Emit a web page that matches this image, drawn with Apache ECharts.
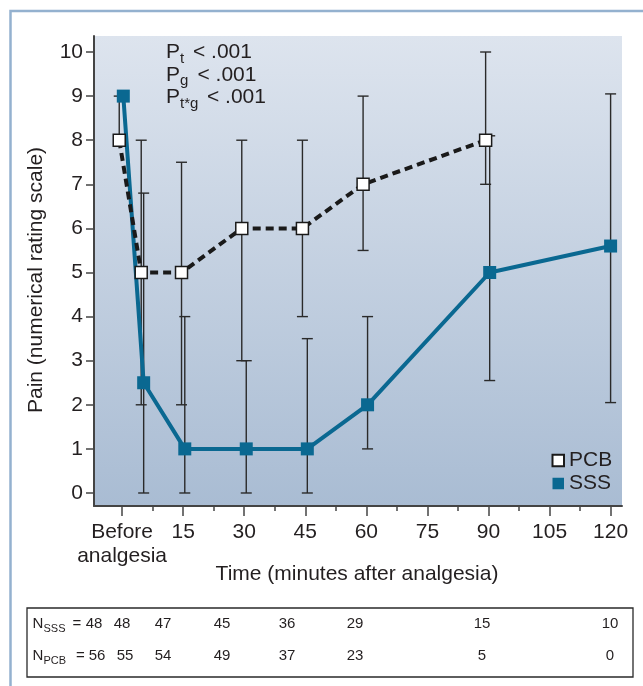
<!DOCTYPE html>
<html>
<head>
<meta charset="utf-8">
<script src="https://cdn.jsdelivr.net/npm/echarts@6/dist/echarts.min.js"></script>
<style>
  html, body { margin: 0; padding: 0; background: #ffffff; }
  #chart { width: 643px; height: 686px; }
</style>
</head>
<body>
<div id="chart"></div>
<script>
// Minutes after analgesia (0 = before analgesia); the two groups are dodged slightly apart
const pcbTime = [-0.7, 4.7, 14.6, 29.4, 44.3, 59.2, 89.3];
const pcbPain = [8, 5, 5, 6, 6, 7, 8];
const pcbLow  = [8, 2, 2, 3, 4, 5.5, 7];
const pcbHigh = [9, 8, 7.5, 8, 8, 9, 10];

const sssTime = [0.3, 5.3, 15.4, 30.5, 45.5, 60.3, 90.3, 120];
const sssPain = [9, 2.5, 1, 1, 1, 2, 5, 5.6];
const sssLow  = [9, 0, 0, 0, 0, 1, 2.55, 2.05];
const sssHigh = [9, 6.8, 4, 3, 3.5, 4, 8.1, 9.05];

// Axis ticks and labels
const xTicks = [0, 15, 30, 45, 60, 75, 90, 105, 120];
const xMinorTicks = [7.5, 22.5, 37.5, 52.5, 67.5, 82.5, 97.5, 112.5];
const xTickLabels = ['Before\nanalgesia', '15', '30', '45', '60', '75', '90', '105', '120'];
const yTicks = [0, 1, 2, 3, 4, 5, 6, 7, 8, 9, 10];

// Patients remaining at each time point
const nSSS = [48, 48, 47, 45, 36, 29, 15, 10];
const nPCB = [56, 55, 54, 49, 37, 23, 5, 0];

const FONT = '"Liberation Sans", Arial, Helvetica, sans-serif';
const INK = '#231f20';
const BLUE = '#0a6891';

const zip = (a, b) => a.map((v, i) => [v, b[i]]);
const zip3 = (a, b, c) => a.map((v, i) => [v, b[i], c[i]]);

function errorBar(params, api) {
  const x = api.value(0);
  const top = api.coord([x, api.value(2)]);
  const bot = api.coord([x, api.value(1)]);
  const hw = 5.5;
  const style = { stroke: '#2a2a2a', lineWidth: 1.4, fill: null };
  return {
    type: 'group',
    children: [
      { type: 'line', shape: { x1: top[0], y1: top[1], x2: bot[0], y2: bot[1] }, style },
      { type: 'line', shape: { x1: top[0] - hw, y1: top[1], x2: top[0] + hw, y2: top[1] }, style },
      { type: 'line', shape: { x1: bot[0] - hw, y1: bot[1], x2: bot[0] + hw, y2: bot[1] }, style }
    ]
  };
}

function txt(text, x, y, size, align, extra) {
  return Object.assign({
    type: 'text', x, y, silent: true,
    style: { text, font: size + 'px ' + FONT, fill: INK, align: align || 'left', verticalAlign: 'middle' }
  }, extra || {});
}

// Statistics block (P values)
const statLines = [
  { sub: 't', rest: '< .001', y: 52.5, restX: 193 },
  { sub: 'g', rest: '< .001', y: 75, restX: 197.5 },
  { sub: 't*g', rest: '< .001', y: 97.5, restX: 207 }
];
const statGraphics = [];
statLines.forEach(l => {
  statGraphics.push(txt('P', 166, l.y, 21));
  statGraphics.push(txt(l.sub, 180, l.y + 6, 15));
  statGraphics.push(txt(l.rest, l.restX, l.y, 21));
});

// N table below the chart
const colX = [94, 122, 163, 222, 287, 355, 482, 610];
const tableGraphics = [
  { type: 'rect', shape: { x: 27, y: 608, width: 606, height: 69 }, style: { fill: null, stroke: '#2a2a2a', lineWidth: 1.3 }, silent: true },
  txt('N', 32.5, 624, 15),
  txt('SSS', 43.5, 629, 11),
  txt('=', 72.5, 624, 15),
  txt('N', 32.5, 656, 15),
  txt('PCB', 43.5, 661, 11),
  txt('=', 76, 656, 15)
];
nSSS.forEach((n, i) => tableGraphics.push(txt(String(n), colX[i], 624, 15, 'center')));
nPCB.forEach((n, i) => tableGraphics.push(txt(String(n), colX[i] + (i < 2 ? 3 : 0), 656, 15, 'center')));

const chart = echarts.init(document.getElementById('chart'), null, { renderer: 'canvas' });

chart.setOption({
  animation: false,
  backgroundColor: '#ffffff',
  textStyle: { fontFamily: FONT },
  grid: {
    left: 94, right: 21, top: 36, bottom: 180,
    show: true, borderWidth: 0,
    backgroundColor: new echarts.graphic.LinearGradient(0, 0, 0, 1, [
      { offset: 0, color: '#dde4ee' },
      { offset: 1, color: '#a9bcd3' }
    ])
  },
  legend: {
    orient: 'vertical',
    left: 546.5, top: 444,
    icon: 'rect',
    itemWidth: 11.5, itemHeight: 11.5,
    itemGap: 0, itemTextGap: 10,
    textStyle: { fontSize: 21, color: INK, lineHeight: 23, fontFamily: FONT },
    data: ['PCB', 'SSS']
  },
  xAxis: [
    {
      type: 'value', min: -6.9, max: 122.8,
      splitLine: { show: false },
      axisLine: { show: true, onZero: false, lineStyle: { color: '#444', width: 2 } },
      axisTick: { show: true, customValues: xTicks, length: 10, lineStyle: { color: '#444', width: 1.5 } },
      axisLabel: {
        customValues: xTicks,
        formatter: v => xTickLabels[xTicks.indexOf(v)],
        fontSize: 21, lineHeight: 24, color: INK, margin: 14, fontFamily: FONT
      }
    },
    {
      // minor ticks between the labelled ones
      type: 'value', min: -6.9, max: 122.8, position: 'bottom', offset: 0,
      splitLine: { show: false },
      axisLine: { show: false, onZero: false },
      axisTick: { show: true, customValues: xMinorTicks, length: 5, lineStyle: { color: '#444', width: 1.5 } },
      axisLabel: { show: false }
    }
  ],
  yAxis: {
    type: 'value', min: -0.295, max: 10.363,
    splitLine: { show: false },
    axisLine: { show: true, onZero: false, lineStyle: { color: '#444', width: 2 } },
    axisTick: { show: true, customValues: yTicks, length: 8, lineStyle: { color: '#444', width: 1.5 } },
    axisLabel: { customValues: yTicks, fontSize: 21, color: INK, margin: 11, fontFamily: FONT }
  },
  graphic: [
    // outer frame
    { type: 'rect', shape: { x: 10.5, y: 11, width: 700, height: 700 }, style: { fill: null, stroke: '#94b1cf', lineWidth: 2.5 }, silent: true },
    txt('Pain (numerical rating scale)', 36, 280, 21, 'center', { rotation: Math.PI / 2 }),
    txt('Time (minutes after analgesia)', 357, 574, 21, 'center')
  ].concat(statGraphics, tableGraphics),
  series: [
    {
      name: 'PCB bars', type: 'custom', renderItem: errorBar, z: 2,
      data: zip3(pcbTime, pcbLow, pcbHigh), encode: { x: 0, y: [1, 2] }, silent: true
    },
    {
      name: 'SSS bars', type: 'custom', renderItem: errorBar, z: 2,
      data: zip3(sssTime, sssLow, sssHigh), encode: { x: 0, y: [1, 2] }, silent: true
    },
    {
      name: 'SSS', type: 'line', z: 3,
      data: zip(sssTime, sssPain),
      symbol: 'rect', symbolSize: 13, showAllSymbol: true,
      itemStyle: { color: BLUE },
      lineStyle: { color: BLUE, width: 4 }
    },
    {
      name: 'PCB', type: 'line', z: 4,
      data: zip(pcbTime, pcbPain),
      symbol: 'rect', symbolSize: 12, showAllSymbol: true,
      itemStyle: { color: '#ffffff', borderColor: '#1a1a1a', borderWidth: 1.5 },
      lineStyle: { color: '#1a1a1a', width: 4, type: [8, 5] }
    }
  ]
});
</script>
</body>
</html>
